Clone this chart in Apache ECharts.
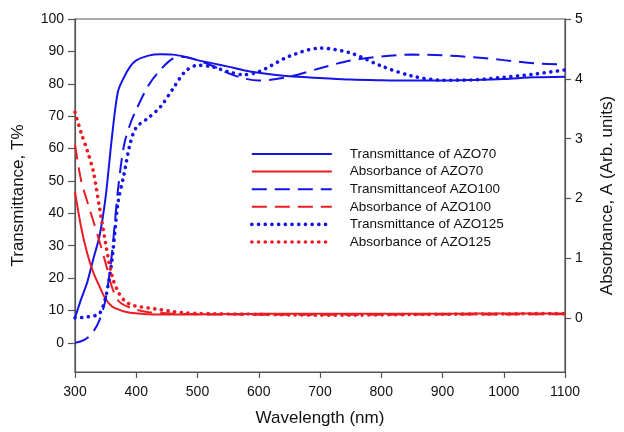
<!DOCTYPE html>
<html><head><meta charset="utf-8">
<script src="https://cdn.jsdelivr.net/npm/echarts@6/dist/echarts.min.js"></script>
<style>html,body{margin:0;padding:0;background:#fff}#c{width:624px;height:432px}</style>
</head><body><div id="c"></div>
<script>
const wavelength = [300,310,320,330,340,350,360,370,380,390,400,420,440,460,480,500,525,550,575,600,650,700,750,800,850,900,950,1000,1050,1100];
const transAZO70  = [7.7,13.5,18.7,26,33,45,63,77.5,82,85.3,87.2,88.7,89.1,89,88.3,87.3,86.3,85.3,84.2,83.4,82.3,81.8,81.3,81.1,81,81,81.2,81.5,82,82.2];
const transAZO100 = [0,0.5,1.5,3.5,7,13.5,27,47,61,67.5,72,79.5,84.4,87.8,88.3,87.3,85.5,83.3,81.7,81,82.2,84.8,87.2,88.4,89,88.8,88.2,87.3,86.3,86];
const transAZO125 = [7.7,7.8,8,8.3,9,14,25,43,52,61.5,66.5,69.5,73,78.5,83.8,85.7,85.2,83.7,82.8,83.7,88.5,91,89.5,85.5,82.4,81.1,81.2,82,83,84.3];
const absAZO70  = [2.11,1.52,1.08,0.76,0.53,0.32,0.2,0.15,0.11,0.09,0.08,0.065,0.06,0.06,0.06,0.062,0.065,0.068,0.07,0.072,0.072,0.072,0.072,0.072,0.074,0.075,0.076,0.077,0.078,0.078];
const absAZO100 = [2.9,2.3,1.95,1.62,1.28,0.92,0.53,0.3,0.22,0.18,0.14,0.1,0.085,0.075,0.07,0.065,0.062,0.06,0.058,0.056,0.055,0.055,0.056,0.058,0.06,0.06,0.062,0.063,0.064,0.065];
const absAZO125 = [3.44,3.1,2.8,2.45,1.85,1.25,0.72,0.45,0.3,0.23,0.2,0.17,0.14,0.11,0.09,0.08,0.075,0.07,0.07,0.065,0.055,0.05,0.05,0.055,0.06,0.065,0.07,0.07,0.075,0.075];
const leftTicks  = [0,10,20,30,40,50,60,70,80,90,100];
const rightTicks = [0,1,2,3,4,5];
const seriesNames = ['Transmittance of AZO70','Absorbance of AZO70','Transmittanceof AZO100','Absorbance of AZO100','Transmittance of AZO125','Absorbance of AZO125'];

const BLUE = '#1414e6', RED = '#ea1c24';
const pairs = v => wavelength.map((w,i)=>[w, v[i]]);
const FONT = 'Liberation Sans, Arial, sans-serif';
const solid = c => ({color:c, width:2, type:'solid'});
const dashed = c => ({color:c, width:2, type:[15,8]});
const dotted = c => ({color:c, width:3.6, type:[0.1,6.6], cap:'round'});
const styles = [solid(BLUE), solid(RED), dashed(BLUE), dashed(RED), dotted(BLUE), dotted(RED)];
const values = [transAZO70, absAZO70, transAZO100, absAZO100, transAZO125, absAZO125];
const axes = [0,1,0,1,0,1];

const chart = echarts.init(document.getElementById('c'), null, {renderer:'canvas'});
chart.setOption({
  animation:false,
  grid:{left:75, right:54, top:19, bottom:58, show:true, borderColor:'#555', borderWidth:1.2, backgroundColor:'transparent'},
  legend:{
    orient:'vertical', left:245, top:142, itemWidth:80, itemHeight:14, itemGap:3.6,
    itemStyle:{opacity:0, color:'rgba(0,0,0,0)', borderWidth:0},
    textStyle:{fontFamily:FONT, fontSize:13.5, color:'#111', padding:[0,0,0,13]},
    data: seriesNames.map((n,i)=>({name:n, lineStyle:Object.assign({}, styles[i])}))
  },
  xAxis:{type:'value', min:300, max:1100, interval:100,
    name:'Wavelength (nm)', nameLocation:'middle', nameGap:38,
    nameTextStyle:{fontFamily:FONT, fontSize:17, color:'#111'},
    axisLine:{onZero:false, lineStyle:{color:'#555', width:1.2}},
    axisTick:{show:true, inside:false, length:6, lineStyle:{color:'#555', width:1.2}},
    axisLabel:{fontFamily:FONT, fontSize:14, color:'#111', margin:13, formatter: v => String(v)},
    splitLine:{show:false}},
  yAxis:[
    {type:'value', min:-9, max:100, position:'left',
     name:'Transmittance, T%', nameLocation:'middle', nameGap:48, nameRotate:90,
     nameTextStyle:{fontFamily:FONT, fontSize:17, color:'#111'},
     axisLine:{show:true, onZero:false, lineStyle:{color:'#555', width:1.2}},
     axisTick:{show:true, inside:false, length:7, customValues:leftTicks, lineStyle:{color:'#555', width:1.2}},
     axisLabel:{fontFamily:FONT, fontSize:14, color:'#111', margin:11, customValues:leftTicks},
     splitLine:{show:false}},
    {type:'value', min:-0.9, max:5, position:'right',
     name:'Absorbance, A (Arb. units)', nameLocation:'middle', nameGap:34, nameRotate:90,
     nameTextStyle:{fontFamily:FONT, fontSize:17, color:'#111'},
     axisLine:{show:true, onZero:false, lineStyle:{color:'#555', width:1.2}},
     axisTick:{show:true, inside:false, length:6, customValues:rightTicks, lineStyle:{color:'#555', width:1.2}},
     axisLabel:{fontFamily:FONT, fontSize:14, color:'#111', margin:10, customValues:rightTicks},
     splitLine:{show:false}}
  ],
  series: seriesNames.map((n,i)=>({
    name:n, type:'line', yAxisIndex:axes[i], data:pairs(values[i]), showSymbol:false, symbol:'none',
    smooth:0.3, lineStyle:styles[i], itemStyle:{color:styles[i].color}, z:3
  }))
});
</script></body></html>
